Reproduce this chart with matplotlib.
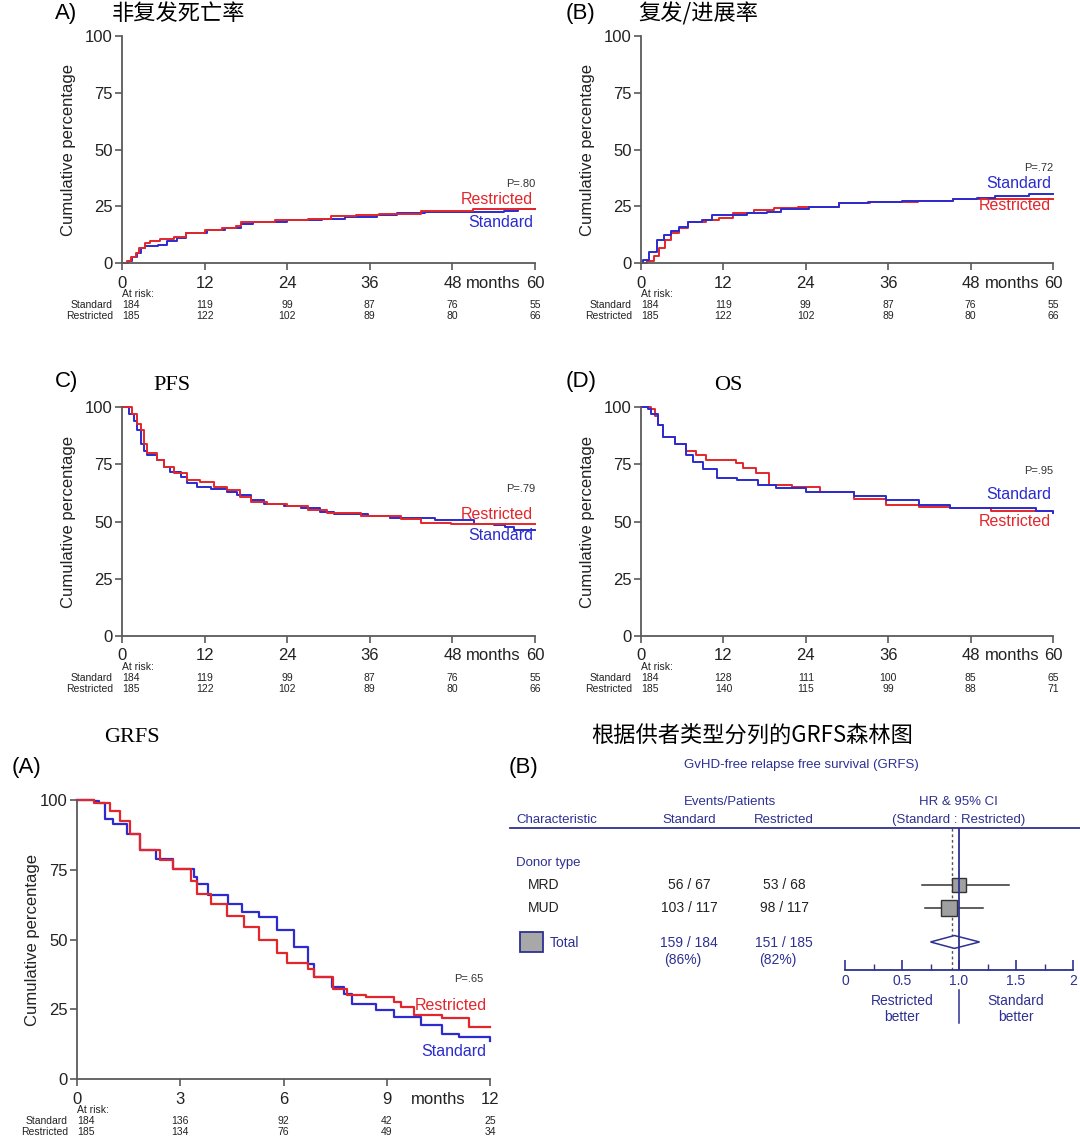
import matplotlib
matplotlib.use('Agg')
import matplotlib.pyplot as plt
from matplotlib.patches import Rectangle, Polygon
from matplotlib.lines import Line2D

plt.rcParams['font.family'] = ['Liberation Sans', 'DejaVu Sans']

W, H = 1080, 1142
RED = '#e3262b'
BLUE = '#2b2bcf'
NAVY = '#2e3092'
AXC = '#5a5a5a'
CJK = ['Noto Sans CJK SC', 'DejaVu Sans']
SERIF = ['Liberation Serif', 'DejaVu Serif']

# ---- data ----
# A) non-relapse mortality (cumulative %)
nrm_std_t = [0, 0.8, 1.5, 2.2, 2.8, 3.3, 5.3, 6.5, 8.0, 9.3, 12.3, 15.0, 17.3, 19.0, 24.0, 29.0, 32.4, 37.0, 40.0, 44.0, 52.5, 55.5, 57.5, 60]
nrm_std_v = [0, 1.0, 2.5, 4.5, 6.5, 7.3, 8.0, 9.5, 11.0, 13.0, 14.6, 15.5, 17.0, 18.2, 19.0, 19.5, 20.4, 21.0, 21.9, 22.6, 22.3, 23.0, 23.6, 23.8]
nrm_res_t = [0, 0.7, 1.3, 2.0, 2.5, 3.3, 4.0, 5.5, 7.5, 9.3, 12.0, 14.5, 16.5, 17.3, 22.3, 27.0, 30.4, 34.0, 37.4, 43.4, 51.0, 60]
nrm_res_v = [0, 1.0, 2.5, 4.5, 6.5, 8.8, 9.5, 10.5, 11.5, 13.4, 14.5, 15.5, 16.5, 18.2, 19.0, 19.5, 20.7, 21.0, 21.6, 22.9, 24.0, 24.0]

# B) relapse / progression (cumulative %)
rel_std_t = [0, 0.3, 1.2, 2.4, 3.4, 4.4, 5.5, 6.9, 8.9, 10.4, 15.4, 18.4, 20.4, 24.4, 28.9, 33.0, 38.0, 45.5, 49.0, 51.5, 56.5, 60]
rel_std_v = [0, 1.5, 5.0, 10.2, 12.5, 13.9, 16.0, 18.2, 19.0, 21.2, 21.9, 22.5, 24.0, 24.8, 26.3, 27.0, 27.4, 28.0, 28.8, 29.5, 30.2, 30.2]
rel_res_t = [0, 0.85, 1.85, 2.6, 3.5, 4.4, 5.5, 6.9, 9.4, 11.4, 13.4, 16.4, 19.4, 22.9, 28.9, 33.4, 40.4, 45.5, 60]
rel_res_v = [0, 1.0, 2.9, 6.6, 10.0, 13.1, 15.5, 18.2, 19.0, 19.7, 22.2, 23.4, 24.1, 24.8, 26.3, 27.0, 27.4, 28.0, 28.0]

# C) PFS (%)
pfs_std_t = [0, 1.0, 1.7, 2.2, 2.7, 3.2, 3.6, 5.1, 6.1, 7.0, 8.5, 9.5, 10.9, 12.9, 15.3, 16.7, 18.7, 20.6, 23.5, 26.0, 28.8, 30.8, 35.7, 39.0, 45.4, 51.2, 54.1, 55.6, 57.0, 60]
pfs_std_v = [100, 97, 94, 90, 84, 81, 79, 77, 74, 71.7, 69.5, 66.6, 65.1, 64, 63, 61.5, 59.3, 57.8, 56.7, 55.7, 54.2, 53.2, 52.3, 51.6, 50.6, 49.1, 48.4, 47.4, 46.5, 46.5]
pfs_res_t = [0, 1.5, 2.2, 2.7, 3.2, 3.7, 5.1, 6.1, 7.5, 9.5, 11.4, 13.3, 15.3, 17.2, 18.7, 21.0, 24.0, 27.0, 29.8, 34.7, 40.5, 43.4, 47.8, 60]
pfs_res_v = [100, 97, 92.7, 89.8, 84, 79.7, 77, 74, 71, 68, 67.3, 65.1, 63.7, 60.8, 58.6, 57.8, 56.7, 55.2, 53.5, 52.5, 51.3, 49.4, 49.1, 48.7]

# D) OS (%)
os_std_t = [0, 1.0, 1.5, 2.5, 3.2, 5.0, 6.5, 7.5, 9.0, 11.0, 14.0, 17.0, 19.7, 24.0, 31.0, 35.7, 40.5, 45.0, 52.7, 57.5, 60]
os_std_v = [100, 99, 97, 92, 87, 84, 79, 76, 73, 69, 68, 66, 64.5, 63, 61, 59.3, 57, 56, 55.7, 54.6, 53.8]
os_res_t = [0, 1.5, 2.0, 2.5, 3.2, 5.0, 6.5, 8.0, 9.5, 13.8, 14.8, 16.7, 18.7, 22.0, 26.0, 31.0, 35.7, 40.5, 45.0, 51.0, 60]
os_res_v = [100, 99, 96, 92, 87, 84, 81, 79, 77, 75.6, 73.5, 71, 66, 65, 63, 60, 57.4, 56.4, 55.7, 54.6, 54.2]

# GRFS (%), 12 months
grfs_std_t = [0, 0.5, 0.63, 0.82, 1.06, 1.45, 1.84, 2.3, 2.8, 3.4, 3.5, 3.8, 4.4, 4.8, 5.3, 5.8, 6.3, 6.7, 6.9, 7.4, 7.75, 8.0, 8.7, 9.2, 10.0, 10.6, 11.1, 12.0]
grfs_std_v = [100, 99.5, 98.8, 93.2, 91.4, 87.8, 81.9, 79.0, 75.3, 72.3, 70.0, 65.8, 62.8, 59.8, 58.0, 53.3, 47.3, 41.3, 36.6, 33.0, 30.6, 27.0, 24.7, 22.3, 19.3, 16.3, 15.1, 13.7]
grfs_res_t = [0, 0.5, 0.97, 1.26, 1.55, 1.84, 2.4, 2.8, 3.3, 3.5, 3.9, 4.35, 4.84, 5.3, 5.8, 6.1, 6.7, 6.9, 7.45, 7.85, 8.4, 9.2, 9.4, 9.8, 10.6, 11.4, 12.0]
grfs_res_v = [100, 99.0, 96.0, 92.6, 87.8, 81.9, 78.4, 75.3, 71.0, 66.4, 62.8, 58.6, 54.5, 49.7, 45.0, 41.4, 39.6, 36.6, 32.4, 30.0, 29.4, 27.7, 25.9, 22.9, 21.7, 18.7, 18.5]

# at-risk tables
ticks60 = [0, 12, 24, 36, 48, 60]
risk_std_60 = [184, 119, 99, 87, 76, 55]
risk_res_60 = [185, 122, 102, 89, 80, 66]
risk_std_os = [184, 128, 111, 100, 85, 65]
risk_res_os = [185, 140, 115, 99, 88, 71]
ticks12 = [0, 3, 6, 9, 12]
risk_std_12 = [184, 136, 92, 42, 25]
risk_res_12 = [185, 134, 76, 49, 34]

# forest plot
fp_rows = ['MRD', 'MUD']
fp_std = ['56 / 67', '103 / 117']
fp_res = ['53 / 68', '98 / 117']
fp_hr = [1.00, 0.91]
fp_lo = [0.675, 0.70]
fp_hi = [1.44, 1.21]
fp_size = [10, 12]
total_hr, total_lo, total_hi = 0.96, 0.75, 1.18
total_std, total_res = '159 / 184', '151 / 185'
total_std_pct, total_res_pct = '(86%)', '(82%)'
pooled_line = 0.94


def px(x, y):
    return x / W, 1 - y / H


def add_axes(l, t, r, b):
    return fig.add_axes([l / W, 1 - b / H, (r - l) / W, (b - t) / H])


def ax_w(ax):
    return ax.get_position().width * W


def km_panel(ax, curves, xmax, ticks, pval, labels, risk_std, risk_res, months_x):
    for (tt, vv, c) in curves:
        ax.plot(tt, vv, drawstyle='steps-post', color=c, lw=1.4, clip_on=False)
    ax.set_xlim(0, xmax)
    ax.set_ylim(0, 100)
    ax.set_xticks(ticks)
    ax.set_yticks([0, 25, 50, 75, 100])
    for s in ['top', 'right']:
        ax.spines[s].set_visible(False)
    for s in ['left', 'bottom']:
        ax.spines[s].set_color(AXC)
        ax.spines[s].set_linewidth(1.3)
    ax.tick_params(axis='both', colors=AXC, labelcolor='#222', labelsize=12, length=5, width=1.2)
    ax.tick_params(axis='x', pad=4)
    ax.tick_params(axis='y', pad=1.5)
    ax.set_ylabel('Cumulative percentage', fontsize=12, color='#222')
    ax.yaxis.set_label_coords(-0.111 * 413 / ax_w(ax), 0.5)
    trans = ax.get_xaxis_transform()
    ax.annotate('months', (months_x, 0), xycoords=trans, xytext=(0, -20 * 0.72),
                textcoords='offset points', ha='center', va='center', fontsize=12, color='#222')
    px_, py_, ptxt = pval
    ax.text(px_, py_, ptxt, ha='right', va='center', fontsize=8, color='#333')
    for (lx, ly, txt, c) in labels:
        ax.text(lx, ly, txt, ha='right', va='center', fontsize=11.5, color=c)
    ax.annotate('At risk:', (0, 0), xycoords=trans, xytext=(0, -31 * 0.72), textcoords='offset points',
                ha='left', va='center', fontsize=7.5, color='#222')
    for name, row, dy in [('Standard', risk_std, 42), ('Restricted', risk_res, 53)]:
        ax.annotate(name, (0, 0), xycoords=trans, xytext=(-9 * 0.72, -dy * 0.72), textcoords='offset points',
                    ha='right', va='center', fontsize=7.5, color='#222')
        for t, n in zip(ticks, row):
            ax.annotate(str(n), (t, 0), xycoords=trans, xytext=(0, -dy * 0.72), textcoords='offset points',
                        ha='left' if t == 0 else 'center', va='center', fontsize=7.5, color='#222')


fig = plt.figure(figsize=(W / 100, H / 100), dpi=100)

# top row
axA = add_axes(122, 36, 535, 263)
km_panel(axA, [(nrm_std_t, nrm_std_v, BLUE), (nrm_res_t, nrm_res_v, RED)], 60, ticks60,
         (60, 35, 'P=.80'), [(59.7, 28, 'Restricted', RED), (59.7, 18, 'Standard', BLUE)],
         risk_std_60, risk_res_60, 54)
axB = add_axes(641, 36, 1053, 263)
km_panel(axB, [(rel_res_t, rel_res_v, RED), (rel_std_t, rel_std_v, BLUE)], 60, ticks60,
         (60, 42, 'P=.72'), [(59.7, 35, 'Standard', BLUE), (59.7, 25.5, 'Restricted', RED)],
         risk_std_60, risk_res_60, 54)
# middle row
axC = add_axes(122, 407, 535, 636)
km_panel(axC, [(pfs_std_t, pfs_std_v, BLUE), (pfs_res_t, pfs_res_v, RED)], 60, ticks60,
         (60, 64, 'P=.79'), [(59.7, 53, 'Restricted', RED), (59.7, 44, 'Standard', BLUE)],
         risk_std_60, risk_res_60, 54)
axD = add_axes(641, 407, 1053, 636)
km_panel(axD, [(os_res_t, os_res_v, RED), (os_std_t, os_std_v, BLUE)], 60, ticks60,
         (60, 72, 'P=.95'), [(59.7, 62, 'Standard', BLUE), (59.7, 50, 'Restricted', RED)],
         risk_std_os, risk_res_os, 54)
# GRFS
axE = add_axes(77, 800, 490, 1079)
km_panel(axE, [(grfs_std_t, grfs_std_v, BLUE), (grfs_res_t, grfs_res_v, RED)], 12, ticks12,
         (11.8, 36, 'P=.65'), [(11.9, 26.5, 'Restricted', RED), (11.9, 10, 'Standard', BLUE)],
         risk_std_12, risk_res_12, 10.5)
for ln in axE.get_lines():
    ln.set_linewidth(1.6)
axE.yaxis.set_label_coords(-(77 - 40) / 413, 0.5)

# panel titles
fig.text(*px(55, 14), 'A)', fontsize=16, va='center', ha='left')
fig.text(*px(112, 14), '非复发死亡率', family=CJK, fontsize=16, va='center', ha='left')
fig.text(*px(566, 14), '(B)', fontsize=16, va='center', ha='left')
fig.text(*px(638, 14), '复发/进展率', family=CJK, fontsize=16, va='center', ha='left')
fig.text(*px(55, 382), 'C)', fontsize=16, va='center', ha='left')
fig.text(*px(153, 386), 'PFS', family=SERIF, fontsize=16, va='center', ha='left')
fig.text(*px(566, 382), '(D)', fontsize=16, va='center', ha='left')
fig.text(*px(714, 386), 'OS', family=SERIF, fontsize=16, va='center', ha='left')
fig.text(*px(104, 737), 'GRFS', family=SERIF, fontsize=16, va='center', ha='left')
fig.text(*px(12, 768), '(A)', fontsize=16, va='center', ha='left')
fig.text(*px(752, 735), '根据供者类型分列的GRFS森林图', family=CJK, fontsize=16, va='center', ha='center')
fig.text(*px(509, 768), '(B)', fontsize=16, va='center', ha='left')

# forest plot table
tk = dict(fontsize=9.5, color=NAVY, va='center')
fig.text(*px(801, 765), 'GvHD-free relapse free survival (GRFS)', ha='center', **tk)
fig.text(*px(730, 802), 'Events/Patients', ha='center', **tk)
fig.text(*px(958, 802), 'HR & 95% CI', ha='center', **tk)
fig.text(*px(516, 820), 'Characteristic', ha='left', **tk)
fig.text(*px(689, 820), 'Standard', ha='center', **tk)
fig.text(*px(784, 820), 'Restricted', ha='center', **tk)
fig.text(*px(959, 820), '(Standard : Restricted)', ha='center', **tk)
fig.add_artist(Line2D([510 / W, 1080 / W], [1 - 828 / H] * 2, color=NAVY, lw=1.3))
fig.text(*px(516, 863), 'Donor type', ha='left', **tk)
row_y = [885, 908]
for name, s, r, y in zip(fp_rows, fp_std, fp_res, row_y):
    fig.text(*px(528, y), name, ha='left', va='center', fontsize=10, color='#222')
    fig.text(*px(689, y), s, ha='center', va='center', fontsize=10, color='#222')
    fig.text(*px(784, y), r, ha='center', va='center', fontsize=10, color='#222')
fig.add_artist(Rectangle(px(520, 952), 23 / W, 20 / H, transform=fig.transFigure,
                         facecolor='#a8a8a8', edgecolor=NAVY, lw=1.3))
fig.text(*px(550, 943), 'Total', ha='left', fontsize=10, color=NAVY, va='center')
fig.text(*px(689, 943), total_std, ha='center', fontsize=10, color=NAVY, va='center')
fig.text(*px(784, 943), total_res, ha='center', fontsize=10, color=NAVY, va='center')
fig.text(*px(683, 960), total_std_pct, ha='center', fontsize=10, color=NAVY, va='center')
fig.text(*px(778, 960), total_res_pct, ha='center', fontsize=10, color=NAVY, va='center')

# forest axes: rows 0, 1 (MRD, MUD) and 2.48 (total)
axF = add_axes(845, 828, 1073, 970)
axF.set_xlim(0, 2)
axF.set_ylim(3.7, -2.48)
for i in range(len(fp_hr)):
    axF.plot([fp_lo[i], fp_hi[i]], [i, i], color='#333', lw=1.1, zorder=2)
    axF.plot(fp_hr[i], i, marker='s', ms=fp_size[i], mfc='#a0a0a0', mec='#333', mew=1.0, zorder=3)
axF.add_patch(Polygon([(total_lo, 2.48), (total_hr, 2.2), (total_hi, 2.48), (total_hr, 2.76)],
                      closed=True, facecolor='white', edgecolor=NAVY, lw=1.1, zorder=3))
axF.axvline(1.0, color=NAVY, lw=1.3, zorder=4)
axF.axvline(pooled_line, color='#555', lw=1.0, ls=(0, (2, 2)), zorder=1)
for s in ['top', 'right', 'left']:
    axF.spines[s].set_visible(False)
axF.spines['bottom'].set_color(NAVY)
axF.spines['bottom'].set_linewidth(1.3)
axF.set_yticks([])
axF.set_xticks([0, 0.5, 1.0, 1.5, 2])
axF.set_xticklabels(['0', '0.5', '1.0', '1.5', '2'])
axF.set_xticks([0.25, 0.75, 1.25, 1.75], minor=True)
axF.tick_params(axis='x', which='major', direction='in', length=7, width=1.2, colors=NAVY,
                labelcolor=NAVY, labelsize=10, pad=3)
axF.tick_params(axis='x', which='minor', direction='in', length=4, width=1.0, colors=NAVY)
axF.patch.set_alpha(0)
tr = axF.get_xaxis_transform()
axF.plot([1.0, 1.0], [-0.14, -0.37], transform=tr, color=NAVY, lw=1.1, clip_on=False)
axF.text(0.5, -0.275, 'Restricted\nbetter', transform=tr, ha='center', va='center',
         fontsize=10, color=NAVY, linespacing=1.15)
axF.text(1.5, -0.275, 'Standard\nbetter', transform=tr, ha='center', va='center',
         fontsize=10, color=NAVY, linespacing=1.15)

fig.savefig('out.png', dpi=100)
